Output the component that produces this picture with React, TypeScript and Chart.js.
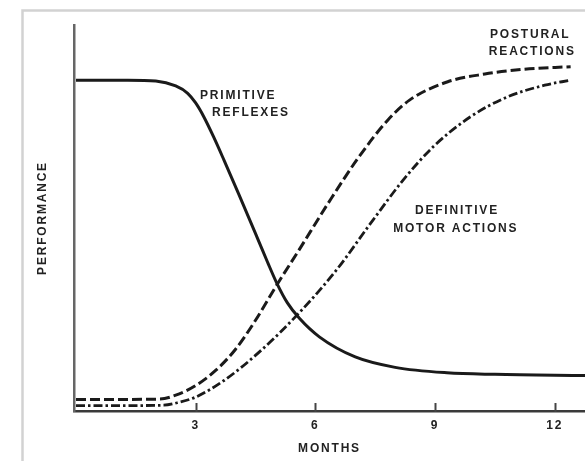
import React, { useEffect, useRef } from "react";
import { Chart, registerables } from "chart.js";

Chart.register(...registerables);

// Months (x) and performance (y)
const primitiveMonths = [0, 1.3, 2.0, 2.5, 2.8, 3.0, 3.2, 3.45, 3.71, 4.08, 4.54, 4.8, 5.03, 5.3, 5.6, 6.1, 7.0, 8.0, 9.3, 10.5, 12.76];
const primitiveValues = [85.7, 85.7, 85.5, 84.2, 82.3, 79.8, 76.3, 71, 65, 56.2, 45, 38.6, 33.2, 28.0, 24.0, 19.2, 14.0, 11.3, 9.9, 9.5, 9.2];

const posturalMonths = [0, 1, 2.1, 2.5, 3.0, 3.5, 4.0, 4.5, 5.03, 5.56, 6.32, 7.07, 7.82, 8.37, 9.32, 10.25, 11.18, 12.4];
const posturalValues = [3.0, 3.0, 3.1, 4.1, 6.6, 10.5, 16.0, 23.5, 32.6, 41.2, 53.8, 65.5, 75.4, 80.6, 85.3, 87.3, 88.5, 89.2];

const definitiveMonths = [0, 1, 2.2, 2.6, 3.0, 3.71, 4.64, 5.61, 6.52, 7.44, 8.2, 8.95, 9.87, 10.8, 11.75, 12.4];
const definitiveValues = [1.4, 1.4, 1.5, 2.3, 3.6, 7.9, 15.7, 25.6, 36.4, 49.4, 59.8, 68.4, 76.1, 81.3, 84.4, 85.7];

const tickValues = [3, 6, 9, 12];
const xTitle = "MONTHS";
const yTitle = "PERFORMANCE";

// Curve labels: text, anchor month, anchor value, alignment
const labelTexts = ["PRIMITIVE", "REFLEXES", "POSTURAL", "REACTIONS", "DEFINITIVE", "MOTOR ACTIONS"];
const labelMonths = [3.11, 3.41, 10.38, 10.35, 9.55, 9.52];
const labelValues = [81.6, 77.2, 97.4, 93.0, 51.8, 47.3];
const labelAligns: CanvasTextAlign[] = ["left", "left", "left", "left", "center", "center"];

const toPoints = (xs: number[], ys: number[]) => xs.map((x, i) => ({ x, y: ys[i] }));

const FAMILY = "'Liberation Sans', Arial, sans-serif";
const FONT = `bold 12px ${FAMILY}`;
const INK = "#1a1a1a";

const decorPlugin = {
  id: "decor",
  beforeDraw(chart: any) {
    const ctx = chart.ctx as CanvasRenderingContext2D;
    ctx.save();
    ctx.strokeStyle = "#d2d2d2";
    ctx.lineWidth = 2.5;
    ctx.beginPath();
    ctx.moveTo(22.5, chart.height);
    ctx.lineTo(22.5, 10.5);
    ctx.lineTo(chart.width, 10.5);
    ctx.stroke();
    ctx.restore();
    (ctx as any).letterSpacing = "1.8px";
  },
  afterDraw(chart: any) {
    const ctx = chart.ctx as CanvasRenderingContext2D;
    const xs = chart.scales.x;
    const ys = chart.scales.y;
    ctx.save();
    // inward tick marks
    ctx.strokeStyle = "#444";
    ctx.lineWidth = 2;
    const bottom = chart.chartArea.bottom;
    tickValues.forEach((v) => {
      const px = Math.round(xs.getPixelForValue(v)) + 0.5;
      ctx.beginPath();
      ctx.moveTo(px, bottom - 8);
      ctx.lineTo(px, bottom + 1);
      ctx.stroke();
    });
    // curve labels
    ctx.fillStyle = "#222";
    ctx.font = FONT;
    (ctx as any).letterSpacing = "1.8px";
    ctx.textBaseline = "middle";
    labelTexts.forEach((t, i) => {
      ctx.textAlign = labelAligns[i];
      ctx.fillText(t, xs.getPixelForValue(labelMonths[i]), ys.getPixelForValue(labelValues[i]));
    });
    ctx.restore();
  },
};

export default function App() {
  const ref = useRef<HTMLCanvasElement>(null);
  useEffect(() => {
    if (!ref.current) return;
    const chart = new Chart(ref.current, {
      type: "line",
      data: {
        datasets: [
          {
            label: "Primitive reflexes",
            data: toPoints(primitiveMonths, primitiveValues),
            borderColor: INK,
            borderWidth: 3,
            pointRadius: 0,
            cubicInterpolationMode: "monotone",
            fill: false,
          },
          {
            label: "Postural reactions",
            data: toPoints(posturalMonths, posturalValues),
            borderColor: INK,
            borderWidth: 3,
            borderDash: [10, 4],
            pointRadius: 0,
            cubicInterpolationMode: "monotone",
            fill: false,
          },
          {
            label: "Definitive motor actions",
            data: toPoints(definitiveMonths, definitiveValues),
            borderColor: INK,
            borderWidth: 2.8,
            borderDash: [9, 3, 2.5, 3],
            pointRadius: 0,
            cubicInterpolationMode: "monotone",
            fill: false,
          },
        ],
      },
      options: {
        responsive: false,
        animation: false,
        devicePixelRatio: 1,
        layout: { padding: { top: 25, left: 0, right: 0, bottom: 0 } },
        plugins: { legend: { display: false }, tooltip: { enabled: false } },
        scales: {
          x: {
            type: "linear",
            min: -0.05,
            max: 12.76,
            afterFit: (s: any) => {
              s.height = 50;
            },
            afterBuildTicks: (s: any) => {
              s.ticks = tickValues.map((v) => ({ value: v }));
            },
            grid: { display: false, drawTicks: false },
            border: { display: true, color: "#3a3a3a", width: 2.5 },
            ticks: {
              color: "#222",
              font: { family: FAMILY, size: 12, weight: "bold" },
              padding: 7,
              maxRotation: 0,
              autoSkip: false,
            },
            title: {
              display: true,
              text: xTitle,
              color: "#222",
              font: { family: FAMILY, size: 12, weight: "bold" },
              padding: { top: 0, bottom: 5 },
            },
          },
          y: {
            type: "linear",
            min: 0,
            max: 100,
            afterFit: (s: any) => {
              s.width = 74;
            },
            grid: { display: false, drawTicks: false },
            border: { display: true, color: "#666", width: 2.5 },
            ticks: { display: false },
            title: {
              display: true,
              text: yTitle,
              color: "#222",
              font: { family: FAMILY, size: 12, weight: "bold" },
              padding: { top: 35, bottom: 0 },
            },
          },
        },
      },
      plugins: [decorPlugin],
    });
    return () => chart.destroy();
  }, []);
  return (
    <div style={{ position: "absolute", left: 0, top: 0, width: 585, height: 461, background: "#fff" }}>
      <canvas ref={ref} width={585} height={461} style={{ display: "block" }} />
    </div>
  );
}
